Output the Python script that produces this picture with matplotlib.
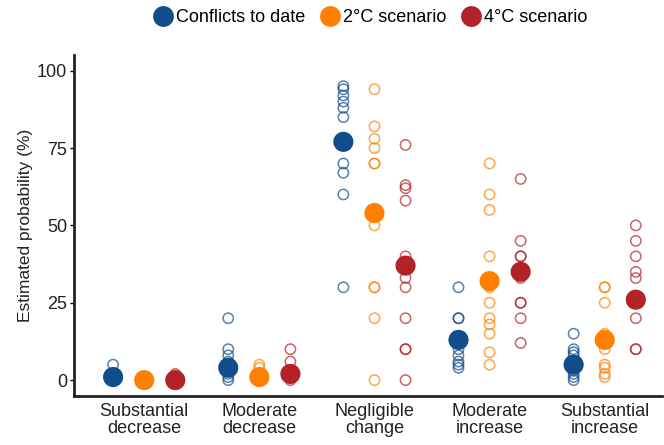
import numpy as np
import matplotlib
matplotlib.use("Agg")
import matplotlib.pyplot as plt
from matplotlib.lines import Line2D

plt.rcParams['font.family'] = ['Liberation Sans', 'DejaVu Sans']

categories = ["Substantial\ndecrease", "Moderate\ndecrease", "Negligible\nchange",
              "Moderate\nincrease", "Substantial\nincrease"]
series = ["Conflicts to date", "2°C scenario", "4°C scenario"]
colors = ["#124d8b", "#ff8000", "#b22226"]

# individual expert estimates (open circles), per category
conflicts_pts = [[5, 2, 1, 0, 0, 0],
                 [20, 10, 8, 6, 5, 3, 2, 1, 0],
                 [95, 94, 92, 90, 88, 85, 70, 67, 60, 30],
                 [30, 20, 20, 10, 8, 6, 5, 4],
                 [15, 10, 9, 8, 5, 3, 2, 1, 0]]
deg2_pts = [[0, 0, 0],
            [5, 4, 1, 0, 0],
            [94, 82, 78, 75, 70, 70, 50, 30, 30, 20, 0],
            [70, 60, 55, 40, 30, 25, 20, 18, 15, 9, 5],
            [30, 30, 25, 15, 13, 10, 5, 4, 2, 1]]
deg4_pts = [[2, 1, 0, 0],
            [10, 6, 3, 1, 0],
            [76, 63, 62, 58, 40, 33, 30, 20, 10, 10, 0],
            [65, 45, 40, 40, 33, 25, 25, 20, 12],
            [50, 45, 40, 35, 33, 20, 10, 10]]

# mean estimates (filled dots)
conflicts_mean = [1, 4, 77, 13, 5]
deg2_mean = [0, 1, 54, 32, 13]
deg4_mean = [0, 2, 37, 35, 26]

all_pts = [conflicts_pts, deg2_pts, deg4_pts]
all_mean = [conflicts_mean, deg2_mean, deg4_mean]
offsets = [-0.27, 0, 0.27]

fig = plt.figure(figsize=(6.64, 4.45), dpi=100)
ax = fig.add_axes([0.1114, 0.111, 0.886, 0.765])

x = np.arange(1, len(categories) + 1)
for s in range(3):
    for i in range(len(categories)):
        vals = all_pts[s][i]
        ax.scatter(np.full(len(vals), x[i] + offsets[s]), vals, s=55,
                   facecolors='none', edgecolors=colors[s], linewidths=1.1,
                   alpha=0.7, zorder=2)
    ax.scatter(x + offsets[s], all_mean[s], s=210, color=colors[s],
               edgecolors='none', zorder=3)

ax.set_xlim(0.39, 5.5)
ax.set_ylim(-5, 105)
ax.set_yticks([0, 25, 50, 75, 100])
ax.set_xticks(x)
ax.set_xticklabels(categories, fontsize=13, color='#222222', linespacing=1.05)
ax.tick_params(axis='x', length=0, pad=5)
ax.tick_params(axis='y', length=3, width=1, labelsize=13, labelcolor='#222222', pad=2)
ax.set_ylabel("Estimated probability (%)", fontsize=12.5, color='#222222', labelpad=3)

for side in ['top', 'right']:
    ax.spines[side].set_visible(False)
for side in ['left', 'bottom']:
    ax.spines[side].set_linewidth(2)
    ax.spines[side].set_color('#222222')

handles = [Line2D([0], [0], marker='o', linestyle='none', markersize=15,
                  markerfacecolor=c, markeredgecolor='none') for c in colors]
fig.legend(handles, series, loc='center', bbox_to_anchor=(0.557, 0.96), ncol=3,
           frameon=False, fontsize=13, handletextpad=0.1, columnspacing=0.8,
           handlelength=1.2)

fig.savefig("out.png", dpi=100)
